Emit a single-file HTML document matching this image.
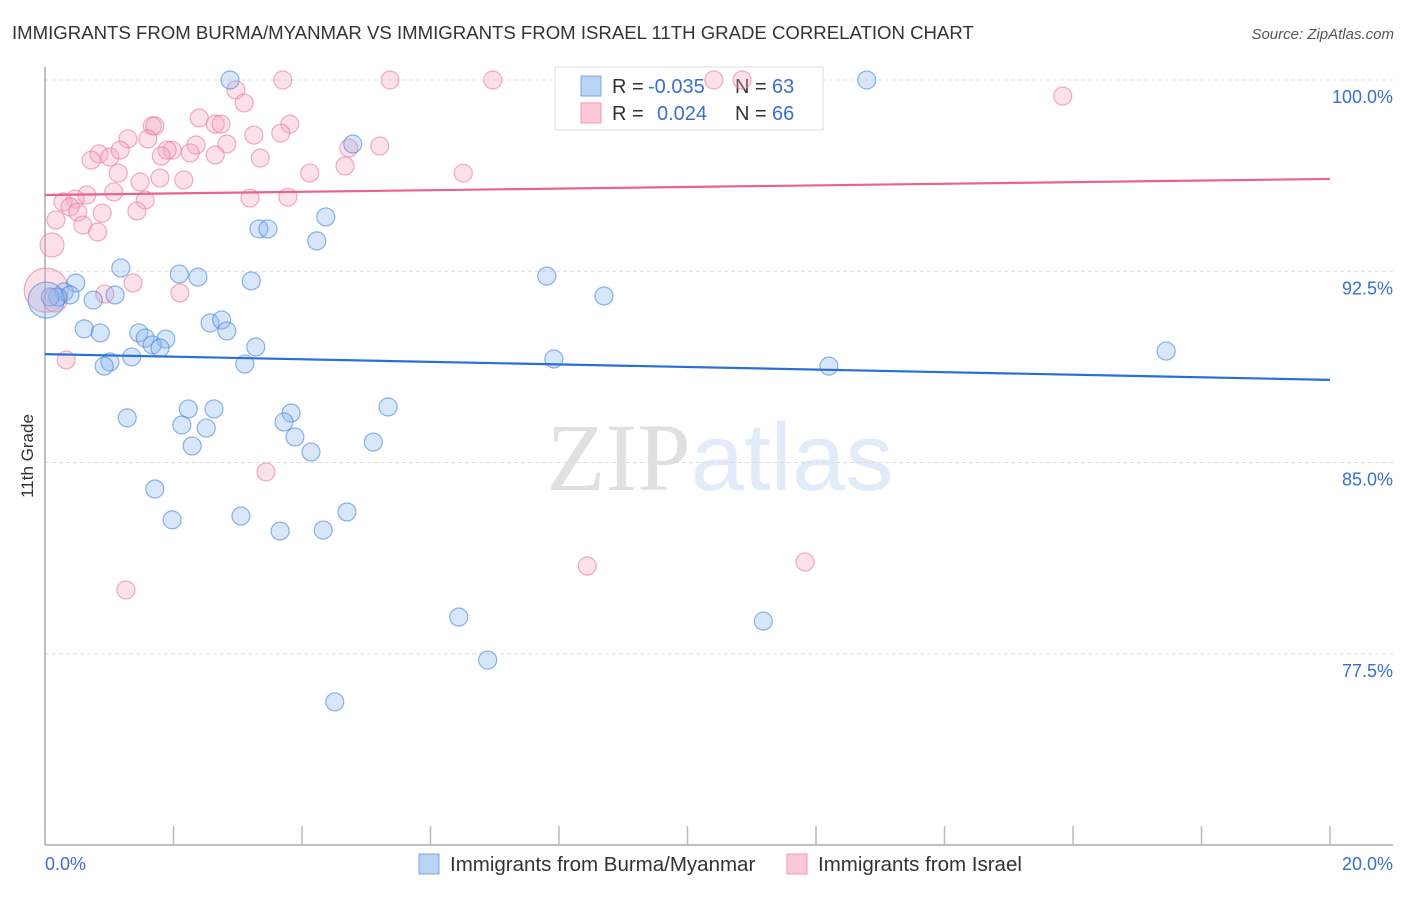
<!DOCTYPE html>
<html><head><meta charset="utf-8"><style>
body{margin:0;background:#fff;font-family:"Liberation Sans",sans-serif}
svg text{font-family:"Liberation Sans",sans-serif}
</style></head><body>
<svg id="chart" width="1406" height="892" xmlns="http://www.w3.org/2000/svg">
<text x="12" y="39" font-size="18.6" fill="#333">IMMIGRANTS FROM BURMA/MYANMAR VS IMMIGRANTS FROM ISRAEL 11TH GRADE CORRELATION CHART</text>
<text x="1394" y="39" font-size="15" fill="#555" text-anchor="end" font-style="italic">Source: ZipAtlas.com</text>
<text x="720" y="490" font-size="96" text-anchor="middle"><tspan font-family="Liberation Serif" fill="#000" fill-opacity="0.12">ZIP</tspan><tspan fill="#3a78d8" fill-opacity="0.15">atlas</tspan></text>
<g id="grid"></g>
<g id="axes"></g>
<g>
<rect x="555" y="67" width="268" height="63" fill="#fff" stroke="#ddd"/>
<rect x="581" y="76" width="20" height="20" fill="#b9d3f5" stroke="#7aa7e6"/>
<text x="612" y="93" font-size="20" fill="#333">R = </text><text x="648" y="93" font-size="20" fill="#3a6fd0">-0.035</text>
<text x="735" y="93" font-size="20" fill="#333">N = </text><text x="772" y="93" font-size="20" fill="#3a6fd0">63</text>
<rect x="581" y="103" width="20" height="20" fill="#fcc9d7" stroke="#ee9ab3"/>
<text x="612" y="120" font-size="20" fill="#333">R = </text><text x="657" y="120" font-size="20" fill="#3a6fd0">0.024</text>
<text x="735" y="120" font-size="20" fill="#333">N = </text><text x="772" y="120" font-size="20" fill="#3a6fd0">66</text>
</g>
<g id="points"></g>
<g id="trends"></g>
<text transform="translate(33,456) rotate(-90)" font-size="17" fill="#333" text-anchor="middle">11th Grade</text>
<text x="45" y="870" font-size="18" fill="#3a6fd0">0.0%</text>
<text x="1393" y="870" font-size="18" fill="#3a6fd0" text-anchor="end">20.0%</text>
<g><rect x="419" y="854" width="20" height="20" fill="#b9d3f5" stroke="#7aa7e6"/><text x="450" y="871" font-size="20.5" fill="#333">Immigrants from Burma/Myanmar</text></g>
<g><rect x="787" y="854" width="20" height="20" fill="#fcc9d7" stroke="#ee9ab3"/><text x="818" y="871" font-size="20.5" fill="#333">Immigrants from Israel</text></g>
</svg>
<script>
const yTicks=[100,92.5,85,77.5];
const yTickLabels=["100.0%","92.5%","85.0%","77.5%"];
const xTicks=[0,2,4,6,8,10,12,14,16,18,20];
const blueX=[2.88,12.79,4.79,3.33,3.47,4.37,4.23,1.18,2.09,2.38,3.21,7.81,8.70,0.48,0.30,0.39,1.09,0.75,0.20,0.08,2.57,2.75,2.83,0.61,0.86,1.46,1.56,1.88,1.67,1.79,3.28,1.35,1.01,0.92,3.11,7.92,12.20,17.45,1.28,2.23,2.63,2.13,2.51,2.29,3.83,3.72,3.89,4.14,5.34,5.11,1.71,1.98,3.05,3.66,4.33,4.70,6.44,6.89,11.18,4.51,0.02];
const blueY=[100,100,97.49,94.16,94.16,94.63,93.69,92.63,92.39,92.27,92.12,92.31,91.53,92.04,91.69,91.57,91.57,91.37,91.49,91.49,90.47,90.59,90.16,90.24,90.08,90.08,89.88,89.84,89.61,89.49,89.53,89.14,88.94,88.78,88.86,89.06,88.78,89.37,86.75,87.10,87.10,86.47,86.35,85.65,86.94,86.59,86.00,85.41,87.18,85.80,83.96,82.75,82.90,82.31,82.35,83.06,78.94,77.25,78.78,75.61,91.37];
const blueR=blueX.map((v,i)=>i===blueX.length-1?18:9);
const pinkX=[3.70,5.37,6.97,10.41,10.85,2.97,3.10,15.84,2.40,2.65,2.74,1.67,1.71,3.81,1.29,1.60,2.83,3.25,3.67,2.35,1.98,1.90,2.26,1.81,2.65,0.84,1.01,1.17,0.72,3.35,5.21,4.73,4.67,4.12,6.51,1.14,1.48,1.79,2.16,1.07,0.65,0.47,1.56,3.19,3.78,0.28,0.39,0.89,0.51,1.43,0.17,0.59,0.82,0.11,1.37,0.93,2.10,0.02,0.16,0.33,3.44,8.44,11.83,1.26];
const pinkY=[100,100,100,100,100,99.61,99.10,99.37,98.51,98.27,98.27,98.20,98.20,98.27,97.69,97.69,97.49,97.84,97.92,97.45,97.25,97.25,97.14,97.02,97.06,97.10,96.98,97.25,96.86,96.94,97.41,97.33,96.63,96.35,96.35,96.35,96.00,96.16,96.08,95.61,95.49,95.33,95.29,95.37,95.41,95.22,95.02,94.78,94.82,94.86,94.51,94.31,94.04,93.53,92.04,91.61,91.65,91.76,91.37,89.02,84.63,80.94,81.10,80.00];
const pinkR=pinkX.map((v,i)=>i===53?12:(i===57?22:(i===58?12:9)));
const trendBlue=[89.25,88.24];
const trendPink=[95.49,96.12];
const NS="http://www.w3.org/2000/svg";
const X=v=>45+v*64.25, Y=v=>80+(100-v)*25.5;
function mk(tag,attrs,parent){const e=document.createElementNS(NS,tag);for(const k in attrs)e.setAttribute(k,attrs[k]);document.getElementById(parent).appendChild(e);return e;}
yTicks.forEach((t,i)=>{
 const l=mk('line',{x1:45,x2:1393,y1:Y(t),y2:Y(t),stroke:'#ddd','stroke-dasharray':'4,3'},'grid');
 
 
 const tx=mk('text',{x:1393,y:Y(t)+23,'font-size':18,fill:'#3a6fd0','text-anchor':'end'},'grid');
 tx.textContent=yTickLabels[i];
 
 
});
const ya=mk('line',{x1:45,x2:45,y1:67,y2:845,stroke:'#aaa','stroke-width':1.5},'axes');


const xa=mk('line',{x1:45,x2:1393,y1:845,y2:845,stroke:'#aaa','stroke-width':1.5},'axes');


xTicks.forEach(t=>{
 const l=mk('line',{x1:X(t),x2:X(t),y1:826,y2:845,stroke:'#bbb','stroke-width':1.5},'axes');
 
 
});
function pts(xs,ys,rs,fill,stroke,name){
 xs.forEach((v,i)=>{
  const c=mk('circle',{cx:X(v),cy:Y(ys[i]),r:rs[i],fill:fill,stroke:stroke,'stroke-width':1.2},'points');
  
  
 });
}
pts(pinkX,pinkY,pinkR,'rgba(246,168,192,0.35)','rgba(232,120,155,0.6)','israel-point');
pts(blueX,blueY,blueR,'rgba(140,182,238,0.35)','rgba(70,130,220,0.6)','burma-point');
const tb=mk('line',{x1:X(0),x2:X(20),y1:Y(trendBlue[0]),y2:Y(trendBlue[1]),stroke:'#2a6fd6','stroke-width':2.2},'trends');


const tp=mk('line',{x1:X(0),x2:X(20),y1:Y(trendPink[0]),y2:Y(trendPink[1]),stroke:'#e8648c','stroke-width':2.2},'trends');


</script>
</body></html>
